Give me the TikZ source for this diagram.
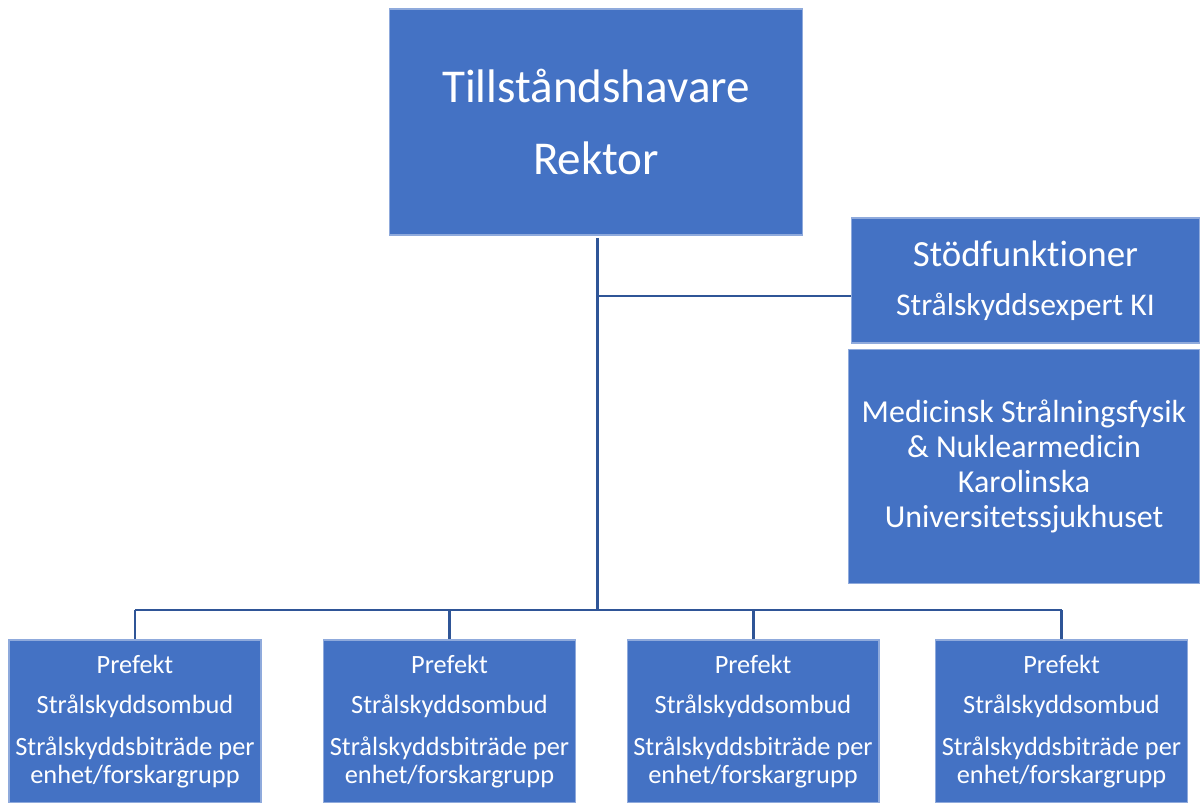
\documentclass[tikz,border=0pt]{standalone}
\usepackage{fontspec}
\setmainfont{Carlito}[Ligatures=NoCommon]
\usepackage{xcolor}
\usetikzlibrary{positioning}

\definecolor{boxblue}{HTML}{4472C4}
\definecolor{boxedge}{HTML}{8FAADC}
\definecolor{lineblue}{HTML}{2F5597}

\begin{document}
\begin{tikzpicture}[
  x=0.02cm, y=-0.02cm,
  block/.style={draw=boxedge, line width=0.6pt, fill=boxblue, rectangle, text=white, align=center, inner sep=0pt},
  unit/.style={block, minimum width=5.04cm, minimum height=3.26cm, font=\fontsize{15}{16}\selectfont},
  conn/.style={draw=lineblue, line width=1.7pt},
  node distance=3pt
]
\useasboundingbox (0,0) rectangle (1200,803);

\node[block, minimum width=8.28cm, minimum height=4.52cm, font=\fontsize{26.8}{41}\selectfont] (rektor) at (596,122) {Tillståndshavare\\Rektor};
\node[block, minimum width=6.98cm, minimum height=2.5cm] (stod) at (1025.5,280.5)
  {{\fontsize{21}{24}\selectfont Stödfunktioner}\\[14pt]{\fontsize{18}{21}\selectfont Strålskyddsexpert KI}};
\node[block, minimum width=7.04cm, minimum height=4.68cm, font=\fontsize{18.2}{20}\selectfont, below=of stod.south east, anchor=north east] (msf)
  {Medicinsk Strålningsfysik\\\& Nuklearmedicin\\Karolinska\\Universitetssjukhuset};

\node[unit] (pre1) at (135,721.5) {Prefekt\\[6.8pt]Strålskyddsombud\\[8pt]Strålskyddsbiträde per\\enhet/forskargrupp};
\node[unit] (pre2) at (449.5,721.5) {Prefekt\\[6.8pt]Strålskyddsombud\\[8pt]Strålskyddsbiträde per\\enhet/forskargrupp};
\node[unit] (pre3) at (753,721.5) {Prefekt\\[6.8pt]Strålskyddsombud\\[8pt]Strålskyddsbiträde per\\enhet/forskargrupp};
\node[unit] (pre4) at (1061.5,721.5) {Prefekt\\[6.8pt]Strålskyddsombud\\[8pt]Strålskyddsbiträde per\\enhet/forskargrupp};

\coordinate (top) at (597,238);
\coordinate (hub) at (597,296);
\coordinate (bus) at (597,610);

\draw[conn] (top) -- (bus);
\draw[conn] (hub) -- (stod.west |- hub);
\draw[conn] (bus -| pre1.north) -- (bus -| pre4.north);
\foreach \u in {pre1,pre2,pre3,pre4}
  \draw[conn] (bus -| \u.north) -- (\u.north);
\end{tikzpicture}
\end{document}
